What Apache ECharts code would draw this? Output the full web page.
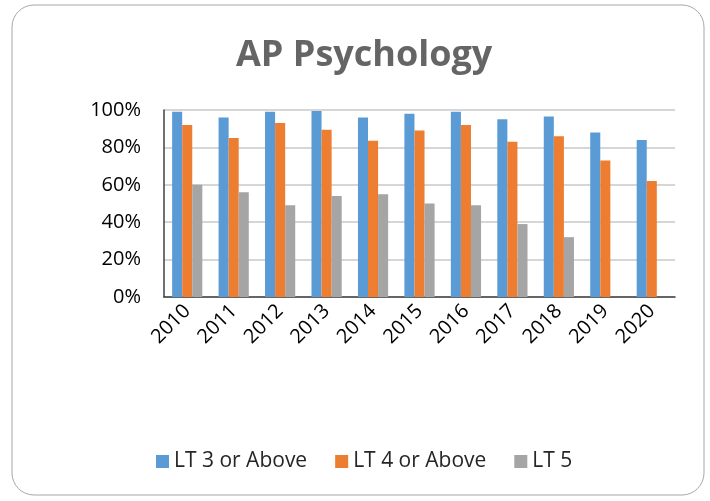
<!DOCTYPE html>
<html>
<head>
<meta charset="utf-8">
<script src="https://cdn.jsdelivr.net/npm/echarts@6/dist/echarts.min.js"></script>
<style>
  html, body { margin: 0; padding: 0; background: #fff; }
  #chart { width: 710px; height: 501px; }
</style>
</head>
<body>
<div id="chart"></div>
<script>
// data
var years = ["2010", "2011", "2012", "2013", "2014", "2015", "2016", "2017", "2018", "2019", "2020"];
var lt3 = [99, 96, 99, 99.5, 96, 98, 99, 95, 96.5, 88, 84];
var lt4 = [92, 85, 93, 89.5, 83.5, 89, 92, 83, 86, 73, 62];
var lt5 = [60, 56, 49, 54, 55, 50, 49, 39, 32, null, null];
var yTicks = [0, 20, 40, 60, 80, 100];

var myChart = echarts.init(document.getElementById("chart"));
var font = "'Open Sans', sans-serif";

var option = {
  animation: false,
  graphic: [
    {
      type: "rect",
      shape: { x: 12, y: 5, width: 692, height: 490, r: 22 },
      style: { fill: "none", stroke: "#a6a6a6", lineWidth: 1 },
      silent: true
    }
  ],
  title: {
    text: "AP Psychology",
    left: 231,
    top: 33,
    textStyle: {
      color: "#656565",
      fontSize: 36,
      fontWeight: "bold",
      fontFamily: font
    }
  },
  legend: {
    bottom: 24,
    left: 151,
    itemWidth: 13,
    itemHeight: 13,
    itemGap: 28,
    icon: "rect",
    textStyle: { color: "#262626", fontSize: 21, fontFamily: font }
  },
  grid: {
    left: 164,
    right: 35,
    top: 110,
    bottom: 204
  },
  xAxis: {
    type: "category",
    data: years,
    axisTick: { show: false },
    axisLine: { lineStyle: { color: "#404040", width: 1.5 } },
    axisLabel: {
      rotate: 45,
      color: "#000",
      fontSize: 20,
      fontFamily: font,
      margin: 11
    }
  },
  yAxis: {
    type: "value",
    min: yTicks[0],
    max: yTicks[yTicks.length - 1],
    interval: 20,
    axisLine: { show: true, lineStyle: { color: "#404040", width: 1.5 } },
    axisTick: { show: false },
    splitLine: { lineStyle: { color: "#c8c8c8", width: 1.5 } },
    axisLabel: {
      color: "#000",
      fontSize: 20,
      fontFamily: font,
      margin: 23,
      formatter: function (v) { return v + "%"; }
    }
  },
  series: [
    {
      name: "LT 3 or Above",
      type: "bar",
      data: lt3,
      barGap: "0%",
      barCategoryGap: "35%",
      itemStyle: { color: "#5b9bd5" }
    },
    {
      name: "LT 4 or Above",
      type: "bar",
      data: lt4,
      itemStyle: { color: "#ed7d31" }
    },
    {
      name: "LT 5",
      type: "bar",
      data: lt5,
      itemStyle: { color: "#a5a5a5" }
    }
  ]
};

myChart.setOption(option);
</script>
</body>
</html>
